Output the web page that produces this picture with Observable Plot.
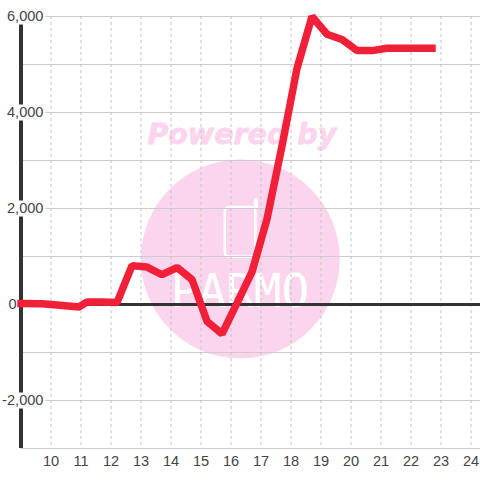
<!DOCTYPE html>
<html>
<head>
<meta charset="utf-8">
<style>html,body{margin:0;padding:0;background:#fff}svg{display:block}</style>
<script src="https://cdn.jsdelivr.net/npm/d3@7"></script>
<script src="https://cdn.jsdelivr.net/npm/@observablehq/plot@0.6"></script>
</head>
<body>
<script>
const hours = [9, 9.7, 10.2, 10.93, 11.2, 11.7, 12.2, 12.7, 13.2, 13.7, 14.2, 14.7, 15.2, 15.7, 16.2, 16.7, 17.2, 17.7, 18.2, 18.7, 19.2, 19.7, 20.2, 20.7, 21.2, 21.7, 22.2, 22.7];
const values = [20, 15, -10, -50, 50, 50, 40, 810, 780, 620, 770, 520, -350, -610, 30, 680, 1780, 3300, 4920, 6000, 5630, 5520, 5290, 5290, 5340, 5340, 5340, 5340];
const series = hours.map((h, i) => ({h, v: values[i]}));

const hourTicks = [10, 11, 12, 13, 14, 15, 16, 17, 18, 19, 20, 21, 22, 23, 24];
const gridValues = [-3000, -2000, -1000, 0, 1000, 2000, 3000, 4000, 5000, 6000];
const sideValues = [6000, 4000, 2000, -2000];
const sideLabels = ["6,000", "4,000", "2,000", "-2,000"];
const zeroLabel = "0";
const sideTable = sideValues.map((v, i) => ({v, t: sideLabels[i]}));

const font = "Liberation Sans, Arial, sans-serif";
const pink = "#fbd5ed";
const ink = "#444";

const chart = Plot.plot({
  width: 480, height: 480,
  marginLeft: 20.5, marginRight: 0, marginTop: 16, marginBottom: 32,
  style: {background: "#fff", fontFamily: font},
  x: {domain: [9, 24.3167], axis: null},
  y: {domain: [-3000, 6000], axis: null},
  marks: [
    // watermark
    Plot.dot([{x: 16.31, y: 948}], {x: "x", y: "y", r: 99.5, fill: pink, stroke: "none"}),
    Plot.text(["Powered by"], {x: 16.36, y: 3540, text: d => d, fontSize: 28.5, fontWeight: "bold", fontStyle: "italic",
      fontFamily: "DejaVu Sans", fill: pink, stroke: pink, strokeWidth: 0.8}),
    Plot.rect([{}], {x1: 15.81, x2: 16.83, y1: 990, y2: 2020, rx: 4, fill: "none", stroke: "#fff", strokeWidth: 2.5}),
    Plot.ruleX([16.83], {y1: 2020, y2: 2160, stroke: "#fff", strokeWidth: 4, strokeLinecap: "round"}),
    Plot.text(["PARMO"], {x: 16.3, y: 257, text: d => d, fontSize: 46, fontFamily: "DejaVu Sans Mono", fill: "#fff"}),
    // grid
    Plot.ruleY(gridValues, {stroke: "#ccc", strokeWidth: 1.2}),
    Plot.ruleX(hourTicks, {stroke: "#c4c4c4", strokeWidth: 1, strokeDasharray: "3,3"}),
    // frame axis
    Plot.ruleX([9], {stroke: "#333", strokeWidth: 4}),
    Plot.ruleY(sideValues, {x1: 8.3, x2: 9.83, stroke: "#fff", strokeWidth: 16}),
    Plot.ruleY([0], {stroke: "#333", strokeWidth: 3}),
    // series
    Plot.line(series, {x: "h", y: "v", stroke: "#f02038", strokeWidth: 7.5, strokeLinejoin: "miter", strokeLinecap: "square"}),
    // labels
    Plot.text(sideTable, {x: () => 9, y: "v", text: "t", textAnchor: "end", dx: 22.5, fontSize: 14.6, fill: ink}),
    Plot.text([zeroLabel], {x: () => 9, y: () => 0, text: d => d, textAnchor: "end", dx: -4.5, fontSize: 14.6, fill: ink}),
    Plot.text(hourTicks, {x: d => d, y: () => -3000, text: d => String(d), dy: 13, fontSize: 14.6, fill: ink})
  ]
});
document.body.appendChild(chart);
</script>
</body>
</html>
